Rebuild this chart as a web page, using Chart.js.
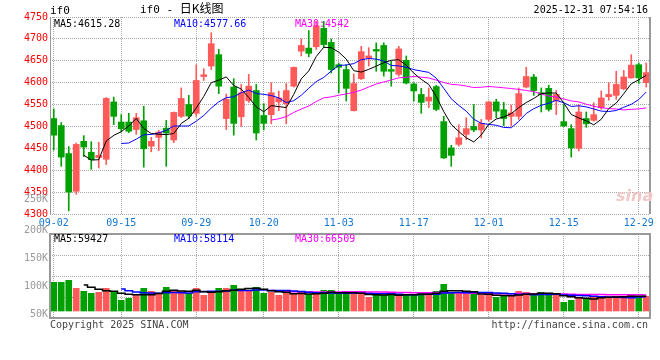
<!DOCTYPE html>
<html><head><meta charset="utf-8">
<script src="https://cdn.jsdelivr.net/npm/chart.js@4.4.1/dist/chart.umd.min.js"></script>
<style>
body{margin:0;background:#fff;}
#wrap{position:relative;width:660px;height:360px;overflow:hidden;font-family:"DejaVu Sans Mono",monospace;font-size:10px;color:#000;}
.t{position:absolute;white-space:pre;line-height:12px;}
canvas{position:absolute;left:0;}
</style></head><body>
<div id="wrap">
<canvas id="pc" width="660" height="230" style="top:0"></canvas>
<canvas id="vc" width="660" height="95" style="top:225px"></canvas>
<div class="t" id="sym" style="left:50px;top:5px;font-size:11px"></div>
<div class="t" id="title" style="left:140px;top:2px;font-size:11px"></div>
<div class="t" id="stamp" style="right:12px;top:4px"></div>
<div class="t" id="pm5" style="left:54px;top:18px;color:#000"></div>
<div class="t" id="pm10" style="left:174px;top:18px;color:#0000ff"></div>
<div class="t" id="pm30" style="left:295px;top:18px;color:#ff00ff"></div>
<div class="t" id="vm5" style="left:54px;top:233px;color:#000"></div>
<div class="t" id="vm10" style="left:174px;top:233px;color:#0000ff"></div>
<div class="t" id="vm30" style="left:295px;top:233px;color:#ff00ff"></div>
<div class="t" id="v250" style="right:612px;top:193px;color:#999"></div>
<div class="t" id="logo" style="left:616px;top:186px;font:italic bold 16px 'DejaVu Sans';color:#f0c8c8"></div>
<div class="t" id="copy" style="left:50px;top:319px;color:#444"></div>
<div class="t" id="url" style="right:12px;top:319px;color:#444"></div>
</div>
<script>
// ---------- data ----------
const dates = ['09-02','09-03','09-04','09-05','09-08','09-09','09-10','09-11','09-12','09-15','09-16','09-17','09-18','09-19','09-22','09-23','09-24','09-25','09-26','09-29','09-30',
'10-09','10-10','10-13','10-14','10-15','10-16','10-17','10-20','10-21','10-22','10-23','10-24','10-27','10-28','10-29','10-30','10-31',
'11-03','11-04','11-05','11-06','11-07','11-10','11-11','11-12','11-13','11-14','11-17','11-18','11-19','11-20','11-21','11-24','11-25','11-26','11-27','11-28',
'12-01','12-02','12-03','12-04','12-05','12-08','12-09','12-10','12-11','12-12','12-15','12-16','12-17','12-18','12-19','12-22','12-23','12-24','12-25','12-26','12-29','12-30'];
const xTickLabels = ['09-02','09-15','09-29','10-20','11-03','11-17','12-01','12-15','12-29'];
const open = [4518,4502,4438,4352,4466,4441,4429,4425,4556,4510, 4510,4493,4513,4455,4475,4496,4469,4523,4550,4530,
 4614,4638,4664,4518,4590,4522,4559,4582,4525,4527, 4556,4552,4592,4672,4679,4682,4724,4692,4641,4630,
 4536,4609,4656,4676,4685,4630,4619,4651,4597,4573, 4558,4591,4511,4451,4459,4482,4500,4492,4516,4556,
 4538,4523,4523,4590,4613,4577,4587,4559,4511,4495, 4450,4518,4514,4543,4568,4571,4586,4611,4641,4600];
const close = [4480,4430,4350,4459,4453,4424,4434,4564,4523,4495, 4489,4520,4449,4466,4487,4485,4532,4564,4524,4605,
 4618,4689,4592,4562,4507,4577,4592,4485,4507,4577, 4565,4582,4635,4685,4667,4730,4687,4630,4635,4587,
 4598,4671,4661,4672,4626,4626,4677,4599,4581,4555, 4567,4539,4428,4434,4474,4495,4492,4507,4556,4535,
 4518,4531,4575,4614,4582,4573,4539,4573,4501,4451, 4533,4506,4527,4565,4573,4596,4613,4640,4611,4623];
const high = [4540,4509,4454,4462,4479,4465,4464,4566,4567,4527, 4530,4530,4546,4475,4491,4514,4533,4588,4571,4641,
 4632,4714,4676,4574,4609,4596,4619,4596,4552,4600, 4581,4598,4636,4700,4719,4740,4740,4700,4645,4641,
 4620,4683,4680,4691,4691,4649,4683,4661,4600,4587, 4588,4594,4523,4457,4504,4520,4550,4516,4558,4562,
 4555,4549,4588,4635,4619,4588,4594,4582,4550,4504, 4550,4533,4554,4581,4600,4626,4628,4664,4645,4645];
const low = [4446,4409,4307,4345,4431,4402,4405,4413,4504,4487, 4486,4482,4407,4442,4445,4409,4463,4520,4518,4523,
 4605,4630,4575,4493,4480,4500,4555,4469,4492,4506, 4536,4506,4590,4661,4659,4676,4680,4622,4577,4558,
 4535,4607,4638,4626,4615,4592,4615,4597,4558,4530, 4543,4536,4427,4409,4455,4470,4488,4474,4512,4520,
 4502,4501,4516,4588,4571,4533,4535,4527,4500,4430, 4444,4498,4512,4539,4560,4562,4584,4610,4598,4590];
const volume = [117000,117000,125100,92500,80200,72100,76200,92500,80200,43500, 51700,63900,92500,80200,68000,96600,84300,80200,72100,92500,
 63900,72100,92500,92500,104700,84300,84300,96600,72100,76200, 63900,72100,68000,76200,68000,68000,84300,84300,68000,68000,
 68000,76200,55800,63900,63900,76200,63900,63900,63900,76200, 76200,80200,108800,72100,76200,68000,68000,63900,63900,55800,
 63900,63900,80200,76200,63900,76200,63900,72100,35400,43500, 55800,51700,59800,59800,55800,59800,55800,68000,59800,59800];
const priceTicks = {min:4300, max:4750, step:50};
const volTickLabels = ['200K','150K','100K','50K'];
const volTopLabel = '250K';
const priceMaText = ['MA5:4615.28','MA10:4577.66','MA30:4542'];
const volMaText = ['MA5:59427','MA10:58114','MA30:66509'];
const texts = {sym:'if0', title:'if0 - ', titleCn:'日K线图', stamp:'2025-12-31 07:54:16', copy:'Copyright 2025 SINA.COM', url:'http://finance.sina.com.cn', logo:'sina'};

// ---------- helpers ----------
function movingAverage(arr, n){ return arr.map((_, i) => i < n-1 ? null : arr.slice(i-n+1, i+1).reduce((a,b)=>a+b,0)/n); }
const RED = '#ff5a5a', GREEN = '#00a000', GRID = '#a8a8a8', FRAME = '#999';
const colors = open.map((o,i) => close[i] >= o ? RED : GREEN);
const FONT = {family:'DejaVu Sans Mono', size:10};
Chart.defaults.font.family = FONT.family; Chart.defaults.font.size = 10;

document.getElementById('sym').textContent = texts.sym;
document.getElementById('title').innerHTML = texts.title + '<span style="font-family:\'Noto Sans CJK SC\';font-size:12px">' + texts.titleCn + '</span>';
document.getElementById('stamp').textContent = texts.stamp;
['pm5','pm10','pm30'].forEach((id,k)=>document.getElementById(id).textContent = priceMaText[k]);
['vm5','vm10','vm30'].forEach((id,k)=>document.getElementById(id).textContent = volMaText[k]);
document.getElementById('v250').textContent = volTopLabel;
document.getElementById('copy').textContent = texts.copy;
document.getElementById('url').textContent = texts.url;
document.getElementById('logo').textContent = texts.logo;

const framePlugin = {
  id:'frame',
  afterDraw(chart, args, opts){
    const a = chart.chartArea, c = chart.ctx;
    c.save(); c.strokeStyle = FRAME;
    if (opts.full){ c.lineWidth = 2; c.strokeRect(a.left, a.top, a.right-a.left, a.bottom-a.top); }
    else {
      c.lineWidth = 1; c.beginPath(); c.moveTo(a.left+0.5, a.top); c.lineTo(a.left+0.5, a.bottom); c.stroke();
      c.lineWidth = 2; c.beginPath(); c.moveTo(a.right, a.top); c.lineTo(a.right, a.bottom); c.stroke();
    }
    c.restore();
  }
};
const xGridColor = ctx => xTickLabels.includes(dates[ctx.index]) ? GRID : 'rgba(0,0,0,0)';
const lineDs = (data, color, w, stepped) => ({type:'line', data, borderColor:color, borderWidth:w, pointRadius:0, fill:false, tension:0, spanGaps:false, stepped: stepped||false});
const noPad = s => { s.paddingTop = 0; s.paddingBottom = 0; };

// ---------- price chart ----------
new Chart(document.getElementById('pc'), {
  type:'bar',
  data:{ labels: dates, datasets:[
    lineDs(movingAverage(close,5), '#000000', 1),
    lineDs(movingAverage(close,10), '#0000ff', 1),
    lineDs(movingAverage(close,30), '#ff00ff', 1),
    {type:'bar', data: open.map((o,i)=>[o, close[i]]), backgroundColor: colors, barThickness:6, grouped:false, minBarLength:1},
    {type:'bar', data: low.map((l,i)=>[l, high[i]]), backgroundColor: colors, barThickness:1, grouped:false}
  ]},
  options:{
    responsive:false, animation:false, events:[],
    layout:{padding:{top:17, right:10, left:0, bottom:0}},
    plugins:{legend:{display:false}, tooltip:{enabled:false}, frame:{full:false}},
    scales:{
      x:{type:'category', offset:true, border:{display:false, dash:[1,1]},
         grid:{color:xGridColor, drawTicks:false, offset:false},
         ticks:{autoSkip:false, maxRotation:0, padding:3, color:'#1478d2', font:FONT,
           callback:(v,i)=> xTickLabels.includes(dates[i]) ? dates[i] : ''},
         afterFit:s=>{s.height=16;}},
      y:{type:'linear', position:'left', min:priceTicks.min, max:priceTicks.max,
         border:{display:false, dash:[1,1]},
         grid:{color:GRID, drawTicks:false},
         ticks:{stepSize:priceTicks.step, color:'#ff0000', font:FONT, padding:2, callback:v=>String(v)},
         afterFit:s=>{s.width=50;}}
    }
  },
  plugins:[framePlugin]
});

// ---------- volume chart ----------
new Chart(document.getElementById('vc'), {
  type:'bar',
  data:{ labels: dates, datasets:[
    lineDs(movingAverage(volume,5), '#000000', 1.5, 'middle'),
    lineDs(movingAverage(volume,10), '#0000ff', 1.5, 'middle'),
    lineDs(movingAverage(volume,30), '#ff00ff', 1.5, 'middle'),
    {type:'bar', data: volume, backgroundColor: colors, barThickness:6, grouped:false, yAxisID:'y'}
  ]},
  options:{
    responsive:false, animation:false, events:[],
    layout:{padding:{top:9, right:10, left:0, bottom:0}},
    plugins:{legend:{display:false}, tooltip:{enabled:false}, frame:{full:true}},
    scales:{
      x:{type:'category', offset:true, border:{display:false, dash:[1,1]},
         grid:{color:xGridColor, drawTicks:false, offset:false},
         ticks:{display:false, autoSkip:false, callback:(v,i)=> xTickLabels.includes(dates[i]) ? dates[i] : ''},
         afterFit:s=>{s.height=2;}},
      y:{type:'linear', position:'left', min:-28560, max:314160,
         border:{display:false, dash:[1,1]},
         grid:{color:GRID, drawTicks:false},
         ticks:{display:false},
         afterBuildTicks:s=>{ s.ticks=[0,1,2,3,4].map(k=>({value:s.min + k*(s.max-s.min)/4})); },
         afterFit:s=>{s.width=0; noPad(s);}},
      vl:{type:'category', labels: volTickLabels, position:'left', offset:false,
          border:{display:false}, grid:{display:false, drawTicks:false},
          ticks:{color:'#999', font:FONT, padding:2, autoSkip:false, labelOffset:-4},
          afterFit:s=>{s.width=50; noPad(s);}}
    }
  },
  plugins:[framePlugin]
});
</script>
</body></html>
